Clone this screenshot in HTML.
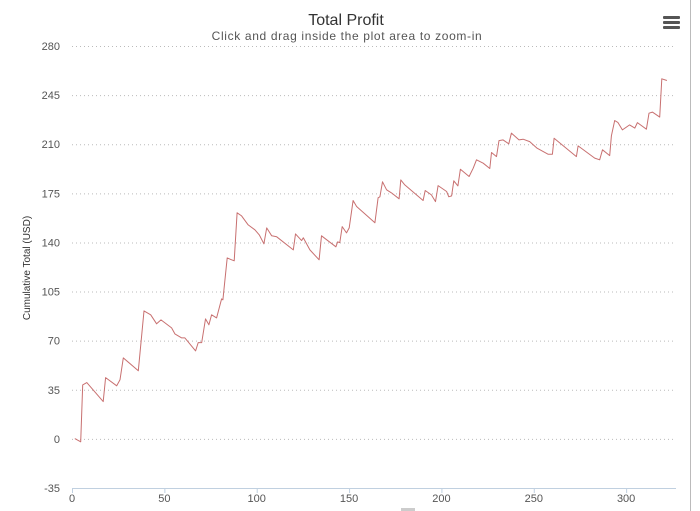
<!DOCTYPE html>
<html><head><meta charset="utf-8"><style>
body{margin:0;background:#fff;font-family:"Liberation Sans",sans-serif}
#c{position:absolute;left:0;top:0;width:700px;height:511px}
</style></head><body>
<svg id="c" width="700" height="511">
<rect x="0" y="0" width="690" height="511" fill="#fff"/>
<line x1="690.5" y1="0" x2="690.5" y2="511" stroke="#bbb"/>
<text x="346" y="25" text-anchor="middle" font-size="16" fill="#333">Total Profit</text>
<text x="347" y="40" text-anchor="middle" font-size="12" letter-spacing="0.65" fill="#555">Click and drag inside the plot area to zoom-in</text>
<g><rect x="663" y="16" width="17" height="3" rx="1" fill="#555"/><rect x="663" y="21" width="17" height="3" rx="1" fill="#555"/><rect x="663" y="26" width="17" height="3" rx="1" fill="#555"/></g>
<text transform="translate(30,268) rotate(-90)" text-anchor="middle" font-size="10" fill="#333">Cumulative Total (USD)</text>
<g id="grid"></g><g id="axes"></g><g id="series"></g>
<rect x="401" y="508" width="14" height="3" fill="#ccc"/>
</svg>
<script>
const yTicks=[-35,0,35,70,105,140,175,210,245,280];
const xTicks=[0,50,100,150,200,250,300];
const xs=[1.5,4.7,5.8,8.0,16.9,18.2,24.2,26.0,27.8,35.9,39.0,42.6,45.8,48.2,53.9,55.7,59.4,61.1,66.9,68.3,70.2,72.3,74.1,75.6,78.3,81.0,81.7,84.0,86.4,87.8,89.4,91.8,95.4,99.0,101.4,103.9,105.4,108.1,110.8,119.8,121.0,124.3,125.2,128.8,133.8,135.1,142.9,143.8,145.0,146.3,148.6,150.1,152.2,154.1,164.0,165.7,166.7,168.1,170.3,173.0,177.1,178.0,180.2,190.1,191.2,194.6,196.8,198.2,202.8,204.0,205.5,206.7,208.9,210.3,215.0,217.2,219.0,222.6,226.2,227.1,229.8,231.2,233.4,236.5,237.9,242.0,244.2,247.8,251.8,257.7,260.1,261.0,273.1,274.0,283.0,285.7,287.2,291.1,292.0,293.8,295.6,298.0,301.9,304.7,306.1,311.0,312.4,314.2,318.2,319.3,322.1];
const ys=[0.2,-2.1,38.5,40.1,26.6,43.7,37.8,42.1,57.7,48.5,91.2,88.4,82.0,84.8,79.1,74.8,72.0,72.0,62.7,68.6,68.6,85.5,81.3,88.4,86.2,99.8,99.1,129.0,127.6,126.9,161.1,158.9,152.5,149.0,145.4,139.0,150.4,144.7,144.0,134.7,146.1,141.3,143.3,134.7,127.6,144.7,136.9,140.4,139.9,151.3,146.8,150.4,169.9,165.6,154.0,171.8,172.5,183.2,177.5,175.3,171.1,184.6,181.0,169.9,177.0,173.9,169.1,180.5,176.3,172.5,173.2,183.9,180.3,192.2,187.0,192.9,198.9,196.5,192.7,204.1,201.2,212.6,213.1,210.3,217.9,213.1,213.6,211.9,207.2,202.9,202.9,214.3,201.2,208.8,200.1,198.9,206.0,201.9,216.0,226.9,225.4,220.2,223.8,221.5,225.4,220.7,232.1,232.9,229.3,256.6,255.4];
const L=72,R=676,T=46,B=488,XMIN=0,XMAX=327,YMIN=-35,YMAX=280;
const X=v=>L+(v-XMIN)/(XMAX-XMIN)*(R-L);
const Y=v=>B-(v-YMIN)/(YMAX-YMIN)*(B-T);
const NS='http://www.w3.org/2000/svg';
function mk(t,a,p){const e=document.createElementNS(NS,t);for(const k in a)e.setAttribute(k,a[k]);p.appendChild(e);return e;}
const grid=document.getElementById('grid'),axes=document.getElementById('axes'),ser=document.getElementById('series');
yTicks.forEach(v=>{
  if(v!==YMIN){const g=mk('line',{x1:L,x2:R,y1:Y(v)+.5,y2:Y(v)+.5,stroke:'#bbb','stroke-dasharray':'1,3'},grid);
  
  }
  const t=mk('text',{x:L-12,y:Y(v)+4,'text-anchor':'end','font-size':11,fill:'#555'},axes);t.textContent=v;
  
  
});
const ax=mk('line',{x1:L,x2:R,y1:B+.5,y2:B+.5,stroke:'#c0d0e0'},axes);


xTicks.forEach(v=>{
  const tk=mk('line',{x1:X(v)+.5,x2:X(v)+.5,y1:B,y2:B+5,stroke:'#c0d0e0'},axes);
  
  
  const t=mk('text',{x:X(v),y:B+14,'text-anchor':'middle','font-size':11,fill:'#555'},axes);t.textContent=v;
  
  
});
const d=xs.map((x,i)=>(i?'L':'M')+X(x).toFixed(1)+','+Y(ys[i]).toFixed(1)).join('');
const p=mk('path',{d:d,fill:'none',stroke:'#c87070','stroke-width':1,'stroke-linejoin':'round'},ser);


</script>
</body></html>
